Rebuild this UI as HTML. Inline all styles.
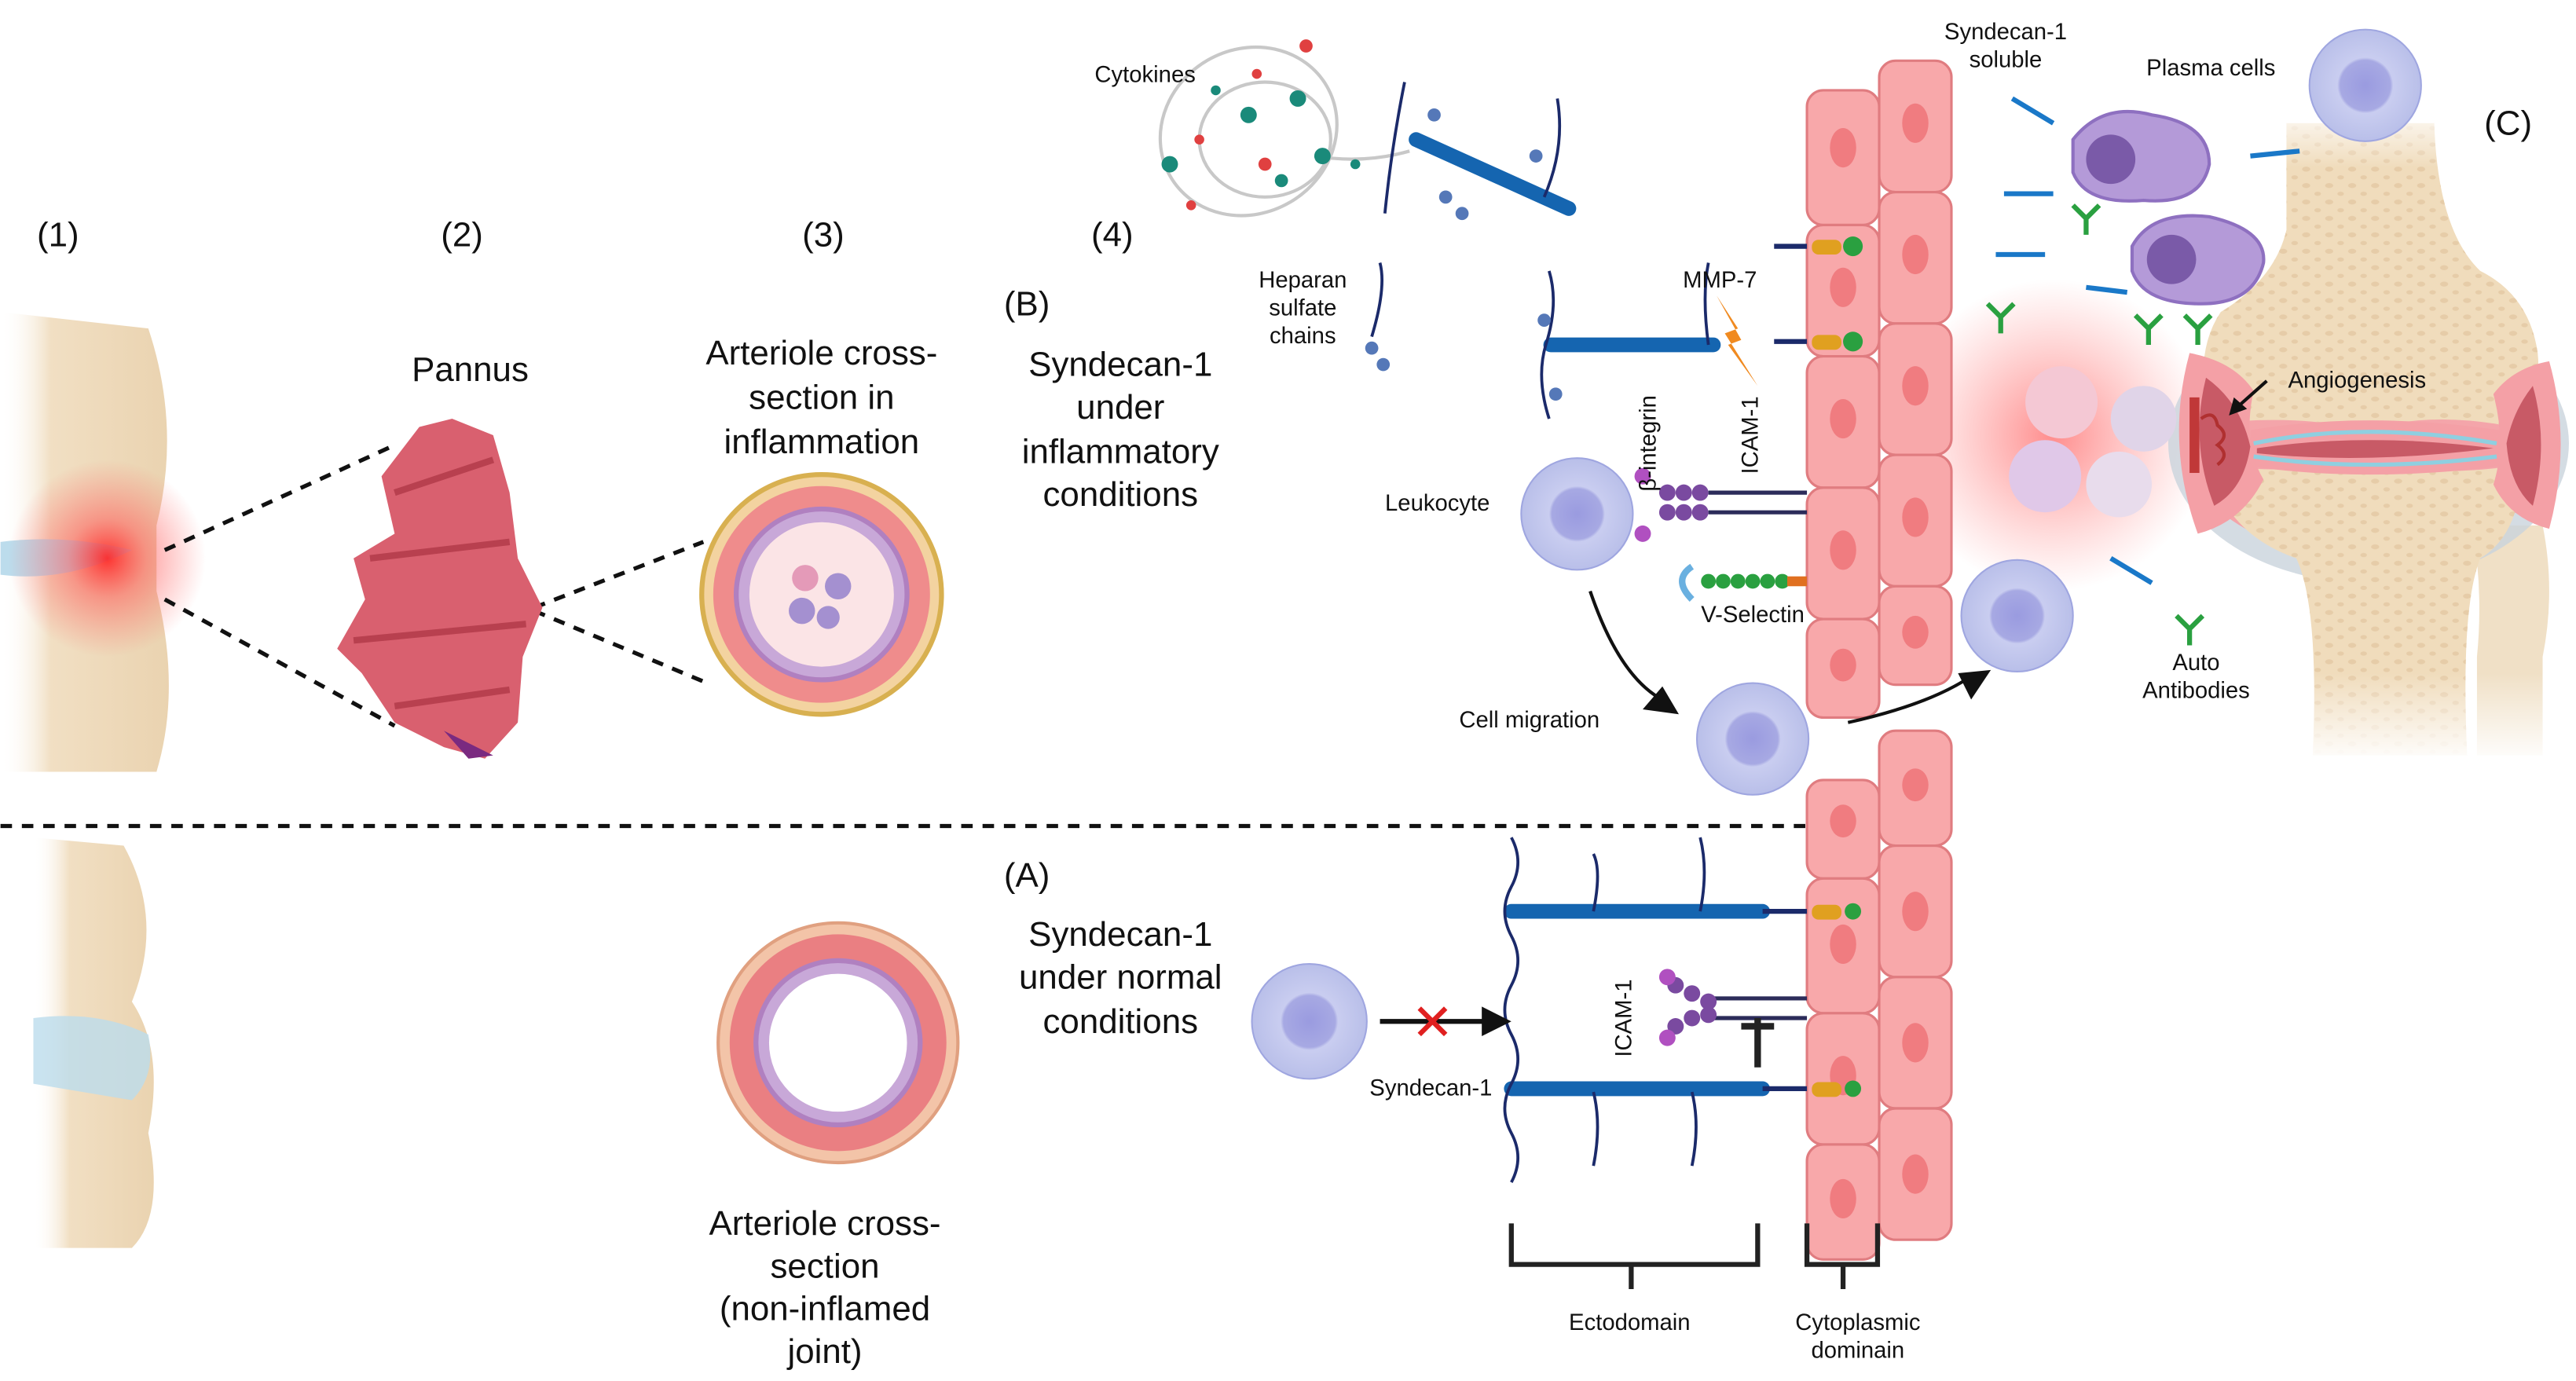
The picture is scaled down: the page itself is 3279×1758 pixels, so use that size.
<!DOCTYPE html>
<html><head><meta charset="utf-8"><style>
html,body{margin:0;padding:0;background:#fff;}
svg{display:block;}
text{font-family:"Liberation Sans",sans-serif;fill:#111;}
</style></head><body>
<svg width="3279" height="1758" viewBox="0 0 1568 841" xmlns="http://www.w3.org/2000/svg">
<defs>
<radialGradient id="glow"><stop offset="0" stop-color="#ff2020" stop-opacity="0.9"/><stop offset="0.4" stop-color="#ff5050" stop-opacity="0.5"/><stop offset="1" stop-color="#ff6060" stop-opacity="0"/></radialGradient>
<radialGradient id="glow2"><stop offset="0" stop-color="#ff3030" stop-opacity="0.55"/><stop offset="1" stop-color="#ff6060" stop-opacity="0"/></radialGradient>
<linearGradient id="bone" x1="0" x2="1"><stop offset="0" stop-color="#fff" stop-opacity="0"/><stop offset="0.3" stop-color="#f1dfc3"/><stop offset="1" stop-color="#ead3b0"/></linearGradient>
<linearGradient id="fade" x1="0" y1="0" x2="0" y2="1"><stop offset="0" stop-color="#fff" stop-opacity="1"/><stop offset="1" stop-color="#fff" stop-opacity="0"/></linearGradient>
<linearGradient id="fadeB" x1="0" y1="0" x2="0" y2="1"><stop offset="0" stop-color="#fff" stop-opacity="0"/><stop offset="1" stop-color="#fff" stop-opacity="1"/></linearGradient>
<pattern id="trab" width="14" height="10" patternUnits="userSpaceOnUse"><ellipse cx="4" cy="3" rx="2.5" ry="1.5" fill="#e6cca8"/><ellipse cx="11" cy="8" rx="2" ry="1.3" fill="#e6cca8"/></pattern>
<radialGradient id="cell"><stop offset="0" stop-color="#9a9be0"/><stop offset="0.45" stop-color="#a7a9e3"/><stop offset="0.5" stop-color="#c9cdf0"/><stop offset="1" stop-color="#b9bfe9"/></radialGradient>
</defs>

<!-- left joint top -->
<path d="M0 190 L90 200 Q110 260 95 320 L95 360 Q110 420 95 470 L0 470Z" fill="url(#bone)"/>
<path d="M0 330 Q40 325 80 335 Q40 355 0 350Z" fill="#bcdcec"/>
<circle cx="65" cy="340" r="60" fill="url(#glow)"/>
<!-- left joint bottom -->
<path d="M20 510 L75 515 Q100 560 80 610 Q100 640 90 690 Q100 740 80 760 L20 760Z" fill="url(#bone)"/>
<path d="M20 620 Q60 615 90 630 Q95 655 80 670 Q50 665 20 660Z" fill="#bcdcec" opacity="0.8"/>

<!-- dashed lines -->
<g stroke="#111" stroke-width="2.5" stroke-dasharray="7,6" fill="none">
<line x1="100" y1="335" x2="238" y2="272"/>
<line x1="100" y1="365" x2="240" y2="442"/>
<line x1="325" y1="370" x2="428" y2="330"/>
<line x1="325" y1="372" x2="428" y2="415"/>
<line x1="0" y1="503" x2="1100" y2="503"/>
</g>

<!-- pannus -->
<path d="M255 260 L275 255 L300 265 L310 300 L315 340 L330 370 L318 400 L315 440 L295 462 L270 455 L240 440 L220 410 L205 395 L222 365 L215 340 L240 325 L232 290Z" fill="#d9606f"/>
<path d="M240 300 L300 280 M225 340 L310 330 M215 390 L320 380 M240 430 L310 420" stroke="#b8404f" stroke-width="4"/>
<path d="M270 445 L300 460 L285 462Z" fill="#7a2a80"/>

<!-- arteriole 1 -->
<circle cx="500" cy="362" r="73" fill="#f3d3a0" stroke="#d8b050" stroke-width="3"/>
<circle cx="500" cy="362" r="66" fill="#ef8c8c"/>
<circle cx="500" cy="362" r="52" fill="#c8a8d8" stroke="#b080c0" stroke-width="3"/>
<circle cx="500" cy="362" r="44" fill="#fbe4e6"/>
<circle cx="490" cy="352" r="8" fill="#e49ab8"/><circle cx="510" cy="357" r="8" fill="#a490d0"/><circle cx="488" cy="372" r="8" fill="#a490d0"/><circle cx="504" cy="376" r="7" fill="#a490d0"/>
<!-- arteriole 2 -->
<circle cx="510" cy="635" r="73" fill="#f3c4a8" stroke="#e0a080" stroke-width="2"/>
<circle cx="510" cy="635" r="66" fill="#ea7f82"/>
<circle cx="510" cy="635" r="50" fill="#c8a8d8" stroke="#b080c0" stroke-width="3"/>
<circle cx="510" cy="635" r="42" fill="#fff"/>

<!-- labels -->
<g font-size="21" text-anchor="middle">
<text x="35" y="150">(1)</text><text x="281" y="150">(2)</text><text x="501" y="150">(3)</text><text x="677" y="150">(4)</text>
<text x="625" y="192">(B)</text><text x="625" y="540">(A)</text><text x="1527" y="82">(C)</text>
<text x="286" y="232">Pannus</text>
<text x="500" y="222">Arteriole cross-</text><text x="500" y="249">section in</text><text x="500" y="276">inflammation</text>
<text x="682" y="229">Syndecan-1</text><text x="682" y="255">under</text><text x="682" y="282">inflammatory</text><text x="682" y="308">conditions</text>
<text x="682" y="576">Syndecan-1</text><text x="682" y="602">under normal</text><text x="682" y="629">conditions</text>
<text x="502" y="752">Arteriole cross-</text><text x="502" y="778">section</text><text x="502" y="804">(non-inflamed</text><text x="502" y="830">joint)</text>
</g>

<!-- right joint -->
<circle cx="1250" cy="265" r="95" fill="url(#glow2)"/>
<path d="M1505 320 Q1512 360 1508 400 L1508 460 L1548 460 L1548 400 Q1556 360 1548 320Z" fill="#f0e0c6"/>
<ellipse cx="1442" cy="270" rx="122" ry="85" fill="#c9d3dc" opacity="0.8"/>
<ellipse cx="1442" cy="270" rx="112" ry="70" fill="#f4a5aa"/>
<!-- femur -->
<path d="M1392 75 L1482 75 Q1484 140 1510 165 Q1540 180 1545 215 Q1548 245 1530 260 Q1480 250 1440 262 Q1400 252 1345 258 Q1335 215 1352 190 Q1385 170 1392 140Z" fill="#f0dcbc"/>
<path d="M1392 75 L1482 75 Q1484 140 1510 165 Q1540 180 1545 215 Q1548 245 1530 260 Q1480 250 1440 262 Q1400 252 1345 258 Q1335 215 1352 190 Q1385 170 1392 140Z" fill="url(#trab)"/>
<!-- tibia -->
<path d="M1345 283 Q1400 290 1440 280 Q1480 292 1535 283 Q1535 325 1510 340 Q1498 370 1502 460 L1408 460 Q1412 370 1398 340 Q1355 325 1345 283Z" fill="#f0dcbc"/>
<path d="M1345 283 Q1400 290 1440 280 Q1480 292 1535 283 Q1535 325 1510 340 Q1498 370 1502 460 L1408 460 Q1412 370 1398 340 Q1355 325 1345 283Z" fill="url(#trab)"/>
<rect x="1380" y="62" width="120" height="40" fill="url(#fade)"/>
<rect x="1390" y="410" width="170" height="55" fill="url(#fadeB)"/>
<!-- synovium -->
<path d="M1333 215 Q1318 270 1338 325 Q1365 318 1378 292 Q1365 270 1372 238 Q1360 220 1333 215Z" fill="#f4a0a6"/>
<path d="M1343 230 Q1333 270 1348 308 Q1366 298 1370 272 Q1364 245 1343 230Z" fill="#c85a66"/>
<path d="M1552 220 Q1566 270 1552 322 Q1528 316 1518 295 Q1526 270 1518 240 Q1530 224 1552 220Z" fill="#f4a0a6"/>
<path d="M1542 235 Q1552 270 1542 308 Q1528 296 1526 270 Q1530 250 1542 235Z" fill="#c85a66"/>
<path d="M1370 262 Q1440 250 1522 262 L1522 284 Q1440 294 1370 284Z" fill="#f4a0a6"/>
<path d="M1372 270 Q1440 256 1520 270 M1372 278 Q1440 288 1520 278" stroke="#8fcfe0" stroke-width="2.5" fill="none"/>
<path d="M1374 273 Q1440 263 1518 273 Q1440 283 1374 276Z" fill="#c85a66"/>
<rect x="1333" y="242" width="6" height="46" fill="#c03838"/>
<path d="M1340 255 q8 -6 10 4 q8 6 0 12 q8 6 0 12" stroke="#b03030" stroke-width="2" fill="none"/>
<path d="M1380 232 L1362 248" stroke="#111" stroke-width="2"/><path d="M1357 253 L1360 242 L1368 249Z" fill="#111"/>

<!-- epithelium -->
<g fill="#f8a8aa" stroke="#e07c80" stroke-width="1.5">
<rect x="1100" y="55" width="44" height="82" rx="10"/><rect x="1100" y="137" width="44" height="80" rx="10"/><rect x="1100" y="217" width="44" height="80" rx="10"/><rect x="1100" y="297" width="44" height="80" rx="10"/><rect x="1100" y="377" width="44" height="60" rx="10"/>
<rect x="1100" y="475" width="44" height="60" rx="10"/><rect x="1100" y="535" width="44" height="82" rx="10"/><rect x="1100" y="617" width="44" height="80" rx="10"/><rect x="1100" y="697" width="44" height="70" rx="10"/>
<rect x="1144" y="37" width="44" height="80" rx="10"/><rect x="1144" y="117" width="44" height="80" rx="10"/><rect x="1144" y="197" width="44" height="80" rx="10"/><rect x="1144" y="277" width="44" height="80" rx="10"/><rect x="1144" y="357" width="44" height="60" rx="10"/>
<rect x="1144" y="445" width="44" height="70" rx="10"/><rect x="1144" y="515" width="44" height="80" rx="10"/><rect x="1144" y="595" width="44" height="80" rx="10"/><rect x="1144" y="675" width="44" height="80" rx="10"/>
</g>
<g fill="#f07c80">
<ellipse cx="1122" cy="90" rx="8" ry="12"/><ellipse cx="1122" cy="175" rx="8" ry="12"/><ellipse cx="1122" cy="255" rx="8" ry="12"/><ellipse cx="1122" cy="335" rx="8" ry="12"/><ellipse cx="1122" cy="405" rx="8" ry="10"/><ellipse cx="1122" cy="500" rx="8" ry="10"/><ellipse cx="1122" cy="575" rx="8" ry="12"/><ellipse cx="1122" cy="655" rx="8" ry="12"/><ellipse cx="1122" cy="730" rx="8" ry="12"/>
<ellipse cx="1166" cy="75" rx="8" ry="12"/><ellipse cx="1166" cy="155" rx="8" ry="12"/><ellipse cx="1166" cy="235" rx="8" ry="12"/><ellipse cx="1166" cy="315" rx="8" ry="12"/><ellipse cx="1166" cy="385" rx="8" ry="10"/><ellipse cx="1166" cy="478" rx="8" ry="10"/><ellipse cx="1166" cy="555" rx="8" ry="12"/><ellipse cx="1166" cy="635" rx="8" ry="12"/><ellipse cx="1166" cy="715" rx="8" ry="12"/>
</g>

<!-- cells -->
<g fill="url(#cell)" stroke="#9fa6e0" stroke-width="1">
<circle cx="960" cy="313" r="34"/><circle cx="1067" cy="450" r="34"/><circle cx="1228" cy="375" r="34"/><circle cx="1440" cy="52" r="34"/><circle cx="797" cy="622" r="35"/>
</g>
<circle cx="1255" cy="245" r="22" fill="#f4c8d4"/><circle cx="1305" cy="255" r="20" fill="#e0d4e8"/><circle cx="1245" cy="290" r="22" fill="#e0c8e8"/><circle cx="1290" cy="295" r="20" fill="#e8dcec"/>
<path d="M1262 85 Q1280 62 1310 70 Q1345 75 1345 100 Q1340 125 1305 122 Q1270 125 1262 105Z" fill="#b49ad8" stroke="#8e70c0" stroke-width="2"/><circle cx="1285" cy="97" r="15" fill="#7a5aa8"/>
<path d="M1298 150 Q1310 128 1345 132 Q1380 140 1378 160 Q1372 185 1340 185 Q1305 185 1298 165Z" fill="#b49ad8" stroke="#8e70c0" stroke-width="2"/><circle cx="1322" cy="158" r="15" fill="#7a5aa8"/>

<!-- cytokines swirl -->
<g fill="none" stroke="#c8c8c8" stroke-width="2">
<ellipse cx="760" cy="80" rx="55" ry="50" transform="rotate(-30 760 80)"/>
<ellipse cx="770" cy="85" rx="40" ry="35"/>
<path d="M800 95 Q830 100 858 92"/>
</g>
<g fill="#1a8a7a"><circle cx="712" cy="100" r="5"/><circle cx="760" cy="70" r="5"/><circle cx="790" cy="60" r="5"/><circle cx="805" cy="95" r="5"/><circle cx="780" cy="110" r="4"/><circle cx="740" cy="55" r="3"/><circle cx="825" cy="100" r="3"/></g>
<g fill="#e04040"><circle cx="765" cy="45" r="3"/><circle cx="730" cy="85" r="3"/><circle cx="770" cy="100" r="4"/><circle cx="725" cy="125" r="3"/><circle cx="795" cy="28" r="4"/></g>

<!-- rods -->
<g stroke="#1565b0" stroke-width="9" stroke-linecap="round">
<line x1="862" y1="85" x2="955" y2="127"/>
<line x1="944" y1="210" x2="1043" y2="210"/>
<line x1="920" y1="555" x2="1073" y2="555"/>
<line x1="920" y1="663" x2="1073" y2="663"/>
</g>
<g stroke="#1b2a6a" stroke-width="3"><line x1="1073" y1="555" x2="1100" y2="555"/><line x1="1073" y1="663" x2="1100" y2="663"/><line x1="1080" y1="150" x2="1100" y2="150"/><line x1="1080" y1="208" x2="1100" y2="208"/></g>
<g><rect x="1103" y="146" width="18" height="9" rx="4" fill="#e0a020"/><circle cx="1128" cy="150" r="6" fill="#2aa040"/>
<rect x="1103" y="204" width="18" height="9" rx="4" fill="#e0a020"/><circle cx="1128" cy="208" r="6" fill="#2aa040"/>
<rect x="1103" y="551" width="18" height="9" rx="4" fill="#e0a020"/><circle cx="1128" cy="555" r="5" fill="#2aa040"/>
<rect x="1103" y="659" width="18" height="9" rx="4" fill="#e0a020"/><circle cx="1128" cy="663" r="5" fill="#2aa040"/></g>

<!-- HS chains -->
<g stroke="#1b2a6a" stroke-width="1.8" fill="none">
<path d="M920 510 q8 15 0 30 q-8 15 0 30 q8 15 0 30 q-8 15 0 30 q8 15 0 30 q-8 15 0 30 q8 15 0 30"/>
<path d="M970 520 q5 10 0 35"/><path d="M1035 510 q5 20 0 45"/><path d="M970 665 q5 20 0 45"/><path d="M1030 665 q5 20 0 45"/>
<path d="M943 165 q6 20 -2 45 q-6 20 2 45"/><path d="M840 160 q4 15 -5 45"/><path d="M855 50 q-8 40 -12 80"/><path d="M948 60 q5 30 -8 60"/><path d="M1040 160 q-4 20 0 50"/>
</g>
<g fill="#5578b8"><circle cx="835" cy="212" r="4"/><circle cx="842" cy="222" r="4"/><circle cx="940" cy="195" r="4"/><circle cx="947" cy="240" r="4"/><circle cx="880" cy="120" r="4"/><circle cx="890" cy="130" r="4"/><circle cx="935" cy="95" r="4"/><circle cx="873" cy="70" r="4"/></g>

<!-- ICAM / integrin -->
<g stroke="#2c2c5a" stroke-width="2.5"><line x1="1040" y1="300" x2="1100" y2="300"/><line x1="1040" y1="312" x2="1100" y2="312"/><line x1="1040" y1="608" x2="1100" y2="608"/><line x1="1040" y1="620" x2="1100" y2="620"/></g>
<g fill="#7a4aa0"><circle cx="1015" cy="300" r="5"/><circle cx="1025" cy="300" r="5"/><circle cx="1035" cy="300" r="5"/><circle cx="1015" cy="312" r="5"/><circle cx="1025" cy="312" r="5"/><circle cx="1035" cy="312" r="5"/>
<circle cx="1020" cy="600" r="5"/><circle cx="1030" cy="605" r="5"/><circle cx="1040" cy="610" r="5"/><circle cx="1020" cy="625" r="5"/><circle cx="1030" cy="620" r="5"/><circle cx="1040" cy="618" r="5"/></g>
<g fill="#b050c0"><circle cx="1000" cy="290" r="5"/><circle cx="1000" cy="325" r="5"/><circle cx="1015" cy="595" r="5"/><circle cx="1015" cy="632" r="5"/></g>
<g fill="#2aa040"><circle cx="1040" cy="354" r="4.5"/><circle cx="1049" cy="354" r="4.5"/><circle cx="1058" cy="354" r="4.5"/><circle cx="1067" cy="354" r="4.5"/><circle cx="1076" cy="354" r="4.5"/><circle cx="1085" cy="354" r="4.5"/></g>
<rect x="1088" y="351" width="12" height="6" fill="#e07020"/>
<path d="M1030 345 q-12 8 0 20" stroke="#6ab0e0" stroke-width="4" fill="none"/>
<path d="M1045 180 L1058 200 L1050 203 L1070 235 L1052 210 L1060 207Z" fill="#f08a20"/>
<path d="M1070 620 L1070 650 M1060 625 L1080 625" stroke="#222" stroke-width="4"/>

<!-- arrows -->
<path d="M968 360 Q985 410 1010 425" stroke="#111" stroke-width="2" fill="none"/><path d="M1022 435 L1000 432 L1012 418Z" fill="#111"/>
<path d="M1125 440 Q1170 430 1195 415" stroke="#111" stroke-width="2" fill="none"/><path d="M1212 408 L1200 426 L1192 410Z" fill="#111"/>
<line x1="840" y1="622" x2="905" y2="622" stroke="#111" stroke-width="3"/><path d="M920 622 L902 613 L902 631Z" fill="#111"/>
<path d="M864 614 L880 630 M880 614 L864 630" stroke="#e02020" stroke-width="3"/>

<!-- antibodies -->
<g stroke="#2aa040" stroke-width="3" fill="none"><path d="M1210 185 l8 8 l8 -8 M1218 193 v10"/><path d="M1262 125 l8 8 l8 -8 M1270 133 v10"/><path d="M1300 192 l8 8 l8 -8 M1308 200 v10"/><path d="M1330 192 l8 8 l8 -8 M1338 200 v10"/><path d="M1325 375 l8 8 l8 -8 M1333 383 v10"/></g>
<g stroke="#1a78c8" stroke-width="3"><line x1="1225" y1="60" x2="1250" y2="75"/><line x1="1220" y1="118" x2="1250" y2="118"/><line x1="1215" y1="155" x2="1245" y2="155"/><line x1="1270" y1="175" x2="1295" y2="178"/><line x1="1370" y1="95" x2="1400" y2="92"/><line x1="1285" y1="340" x2="1310" y2="355"/></g>

<!-- brackets -->
<g stroke="#222" stroke-width="3" fill="none"><path d="M920 745 V770 H1070 V745 M993 770 V785"/><path d="M1100 745 V770 H1143 V745 M1122 770 V785"/></g>

<!-- small labels -->
<g font-size="14" text-anchor="middle">
<text x="697" y="50">Cytokines</text>
<text x="793" y="175">Heparan</text><text x="793" y="192">sulfate</text><text x="793" y="209">chains</text>
<text x="1047" y="175">MMP-7</text>
<text x="875" y="311">Leukocyte</text>
<text x="1067" y="379">V-Selectin</text>
<text x="931" y="443">Cell migration</text>
<text x="1221" y="24">Syndecan-1</text><text x="1221" y="41">soluble</text>
<text x="1346" y="46">Plasma cells</text>
<text x="1435" y="236">Angiogenesis</text>
<text x="1337" y="408">Auto</text><text x="1337" y="425">Antibodies</text>
<text x="871" y="667">Syndecan-1</text>
<text x="992" y="810">Ectodomain</text>
<text x="1131" y="810">Cytoplasmic</text><text x="1131" y="827">dominain</text>
<text transform="translate(1008 270) rotate(-90)">β-integrin</text>
<text transform="translate(1070 265) rotate(-90)">ICAM-1</text>
<text transform="translate(993 620) rotate(-90)">ICAM-1</text>
</g>
</svg>
</body></html>
